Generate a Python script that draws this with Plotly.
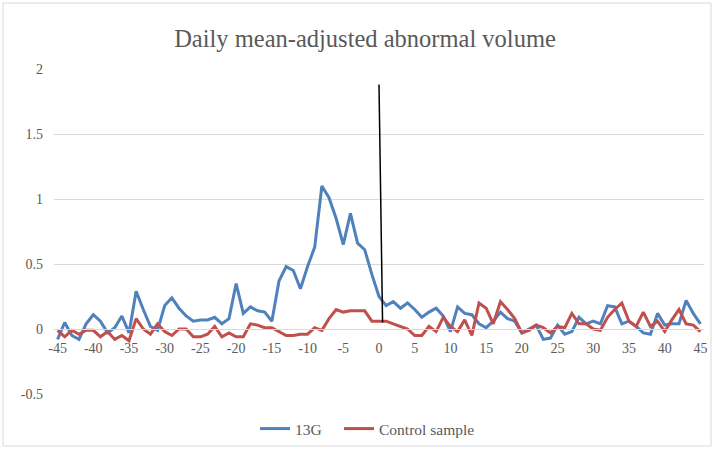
import plotly.graph_objects as go

days = list(range(-45, 46))

g13 = [-0.08, 0.05, -0.05, -0.08, 0.04, 0.11, 0.06, -0.03, 0.01, 0.10,
       -0.03, 0.29, 0.15, 0.02, -0.01, 0.18, 0.24, 0.16, 0.10, 0.06,
       0.07, 0.07, 0.09, 0.04, 0.08, 0.35, 0.12, 0.17, 0.14, 0.13,
       0.06, 0.37, 0.48, 0.45, 0.31, 0.48, 0.63, 1.10, 1.01, 0.85,
       0.65, 0.89, 0.66, 0.61, 0.42, 0.25, 0.18, 0.21, 0.16, 0.20,
       0.15, 0.09, 0.13, 0.16, 0.10, -0.02, 0.17, 0.12, 0.11, 0.04,
       0.01, 0.06, 0.13, 0.08, 0.06, -0.03, 0.00, 0.03, -0.08, -0.07,
       0.03, -0.04, -0.02, 0.09, 0.04, 0.06, 0.04, 0.18, 0.17, 0.04,
       0.06, 0.02, -0.03, -0.04, 0.12, 0.03, 0.04, 0.04, 0.22, 0.12,
       0.04]

control = [-0.01, -0.06, -0.01, -0.04, -0.01, -0.01, -0.06, -0.02, -0.08, -0.05,
           -0.09, 0.08, 0.00, -0.04, 0.04, -0.02, -0.05, 0.00, 0.00, -0.06,
           -0.06, -0.04, 0.02, -0.06, -0.03, -0.06, -0.06, 0.04, 0.03, 0.01,
           0.01, -0.02, -0.05, -0.05, -0.04, -0.04, 0.01, -0.01, 0.08, 0.15,
           0.13, 0.14, 0.14, 0.14, 0.06, 0.06, 0.06, 0.04, 0.02, 0.00,
           -0.05, -0.05, 0.02, -0.02, 0.09, 0.02, -0.02, 0.07, -0.05, 0.20,
           0.16, 0.04, 0.21, 0.15, 0.08, -0.03, -0.01, 0.03, 0.01, -0.03,
           0.02, 0.01, 0.12, 0.04, 0.04, 0.00, -0.01, 0.09, 0.15, 0.20,
           0.06, 0.02, 0.13, 0.02, 0.06, -0.02, 0.07, 0.15, 0.04, 0.03,
           -0.02]

y_ticks = [-0.5, 0, 0.5, 1, 1.5, 2]
y_tick_text = ["-0.5", "0", "0.5", "1", "1.5", "2"]
x_ticks = list(range(-45, 46, 5))

event_line_x = [0, 0.5]
event_line_y = [1.88, 0.05]

FONT = "'Liberation Serif', Tinos, 'Times New Roman', 'DejaVu Serif', serif"
TXT = "#595959"

fig = go.Figure()
fig.add_trace(go.Scatter(x=days, y=g13, mode="lines", name="13G",
                         line=dict(color="#4F81BD", width=3), legend="legend"))
fig.add_trace(go.Scatter(x=days, y=control, mode="lines", name="Control sample",
                         line=dict(color="#C0504D", width=3), legend="legend2"))

fig.add_shape(type="line", xref="x", yref="y",
              x0=event_line_x[0], y0=event_line_y[0],
              x1=event_line_x[1], y1=event_line_y[1],
              line=dict(color="black", width=1.5))

# chart-area border
W, H = 714, 449
L, R, T, B = 54, 10, 69, 55
pw, ph = W - L - R, H - T - B
fig.add_shape(type="rect", xref="paper", yref="paper",
              x0=(3 - L) / pw, x1=(W - 3 - L) / pw,
              y0=-(H - 3 - T - ph) / ph, y1=1 + (T - 3) / ph,
              line=dict(color="#d9d9d9", width=1), layer="below")

zero_pos = (0 - (-0.5)) / (2 - (-0.5))

leg_common = dict(orientation="h", xanchor="left",
                  y=-(429 - T - ph) / ph, yanchor="middle",
                  font=dict(family=FONT, size=15.5, color=TXT),
                  itemwidth=30, bgcolor="rgba(0,0,0,0)")

fig.update_layout(
    width=W, height=H,
    margin=dict(l=L, r=R, t=T, b=B, autoexpand=False),
    paper_bgcolor="white", plot_bgcolor="white",
    font=dict(family=FONT, color=TXT, size=14),
    title=dict(text="Daily mean-adjusted abnormal volume",
               font=dict(family=FONT, size=24.5, color=TXT),
               x=365 / W, xref="container", xanchor="center",
               y=1 - 38 / H, yref="container", yanchor="middle"),
    showlegend=True,
    legend=dict(x=(255 - L) / pw, **leg_common),
    legend2=dict(x=(339 - L) / pw, **leg_common),
    xaxis=dict(range=[-45.5, 45.5], tickvals=x_ticks,
               ticktext=[str(v) for v in x_ticks],
               showgrid=False, zeroline=False, automargin=False,
               showline=True, linecolor="#d9d9d9", linewidth=1,
               anchor="free", position=zero_pos,
               ticks="", ticklabelstandoff=6, ticklabeloverflow="allow",
               tickfont=dict(family=FONT, size=14, color=TXT)),
    yaxis=dict(range=[-0.5, 2], tickvals=y_ticks, ticktext=y_tick_text,
               showgrid=True, gridcolor="#d9d9d9", gridwidth=1,
               zeroline=False, showline=False, ticks="", automargin=False,
               ticklabelstandoff=10,
               tickfont=dict(family=FONT, size=14, color=TXT)),
)

fig.write_html("out.html", config={"displayModeBar": False},
               post_script="document.body.style.margin='0';document.body.style.padding='0';")
